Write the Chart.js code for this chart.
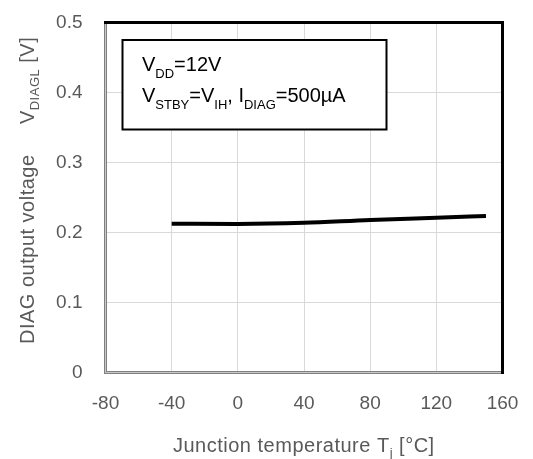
<!DOCTYPE html>
<html>
<head>
<meta charset="utf-8">
<script src="https://cdn.jsdelivr.net/npm/chart.js@4"></script>
<style>
  html, body { margin: 0; padding: 0; background: #fff; }
</style>
</head>
<body>
<canvas id="chart" width="533" height="459"></canvas>
<script>
// data
var temps = [-40, 0, 40, 80, 120, 150];
var vdiag = [0.2124, 0.2122, 0.2138, 0.218, 0.221, 0.2236];

var xTicks = [-80, -40, 0, 40, 80, 120, 160];
var yTicks = [0, 0.1, 0.2, 0.3, 0.4, 0.5];

var FONT = "'Liberation Sans', Arial, sans-serif";
var GREY = '#595959';

// draws text made of [text, isSub] pieces, returns width
function richText(ctx, parts, x, y, size, subSize, subDrop) {
  var cx = x;
  parts.forEach(function (p) {
    ctx.font = (p[1] ? subSize : size) + 'px ' + FONT;
    ctx.fillText(p[0], cx, y + (p[1] ? subDrop : 0));
    cx += ctx.measureText(p[0]).width;
  });
  return cx - x;
}

var decorations = {
  id: 'decorations',
  afterDatasetsDraw: function (chart) {
    var ctx = chart.ctx;
    var a = chart.chartArea;
    ctx.save();

    // frame: grey double line left/bottom, black top/right
    ctx.lineCap = 'square';
    ctx.strokeStyle = '#808080';
    ctx.lineWidth = 3;
    ctx.beginPath();
    ctx.moveTo(a.left, a.top);
    ctx.lineTo(a.left, a.bottom);
    ctx.lineTo(a.right, a.bottom);
    ctx.stroke();
    ctx.strokeStyle = '#c8c8c8';
    ctx.lineWidth = 1;
    ctx.stroke();
    ctx.strokeStyle = '#000';
    ctx.lineWidth = 3;
    ctx.beginPath();
    ctx.moveTo(a.left, a.top);
    ctx.lineTo(a.right, a.top);
    ctx.lineTo(a.right, a.bottom);
    ctx.stroke();

    // condition box
    ctx.fillStyle = '#fff';
    ctx.fillRect(122.5, 40, 264, 89.5);
    ctx.lineWidth = 2;
    ctx.strokeRect(122.5, 40, 264, 89.5);
    ctx.fillStyle = '#000';
    ctx.textBaseline = 'alphabetic';
    ctx.textAlign = 'left';
    richText(ctx, [['V', 0], ['DD', 1], ['=12V', 0]], 142, 71, 20, 13, 7);
    richText(ctx, [['V', 0], ['STBY', 1], ['=V', 0], ['IH', 1], [', I', 0], ['DIAG', 1], ['=500µA', 0]], 142, 102, 20, 13, 7);

    // axis titles
    ctx.fillStyle = GREY;
    ctx.letterSpacing = '0.5px';
    richText(ctx, [['Junction temperature T', 0], ['j', 1], [' [°C]', 0]], 173, 452, 20, 13, 5);

    ctx.translate(34, 344);
    ctx.rotate(-Math.PI / 2);
    richText(ctx, [['DIAG output voltage     V', 0], ['DIAGL', 1], [' [V]', 0]], 0, 0, 20, 13, 5);
    ctx.restore();
  }
};

function noPad(s) {
  s.paddingTop = 0;
  s.paddingBottom = 0;
  s.paddingLeft = 0;
  s.paddingRight = 0;
}

var chart = new Chart(document.getElementById('chart'), {
  type: 'scatter',
  data: {
    datasets: [{
      data: temps.map(function (t, i) { return { x: t, y: vdiag[i] }; }),
      showLine: true,
      borderColor: '#000',
      borderWidth: 4,
      pointRadius: 0,
      cubicInterpolationMode: 'monotone'
    }]
  },
  options: {
    responsive: false,
    animation: false,
    devicePixelRatio: 1,
    layout: { padding: { left: 0, right: 30.5, top: 22.5, bottom: 0 } },
    plugins: { legend: { display: false }, tooltip: { enabled: false } },
    scales: {
      x: {
        type: 'linear',
        min: xTicks[0],
        max: xTicks[xTicks.length - 1],
        afterBuildTicks: function (s) { s.ticks = xTicks.map(function (v) { return { value: v }; }); },
        afterFit: function (s) { s.height = 86.5; noPad(s); },
        grid: { color: '#d9d9d9', lineWidth: 1, drawTicks: false },
        border: { display: false },
        ticks: { color: GREY, font: { family: FONT, size: 19 }, padding: 20, maxRotation: 0 }
      },
      y: {
        min: yTicks[0],
        max: yTicks[yTicks.length - 1],
        afterBuildTicks: function (s) { s.ticks = yTicks.map(function (v) { return { value: v }; }); },
        afterFit: function (s) { s.width = 105.5; noPad(s); },
        grid: { color: '#d9d9d9', lineWidth: 1, drawTicks: false },
        border: { display: false },
        ticks: { color: GREY, font: { family: FONT, size: 19 }, padding: 23 }
      }
    }
  },
  plugins: [decorations]
});
</script>
</body>
</html>
